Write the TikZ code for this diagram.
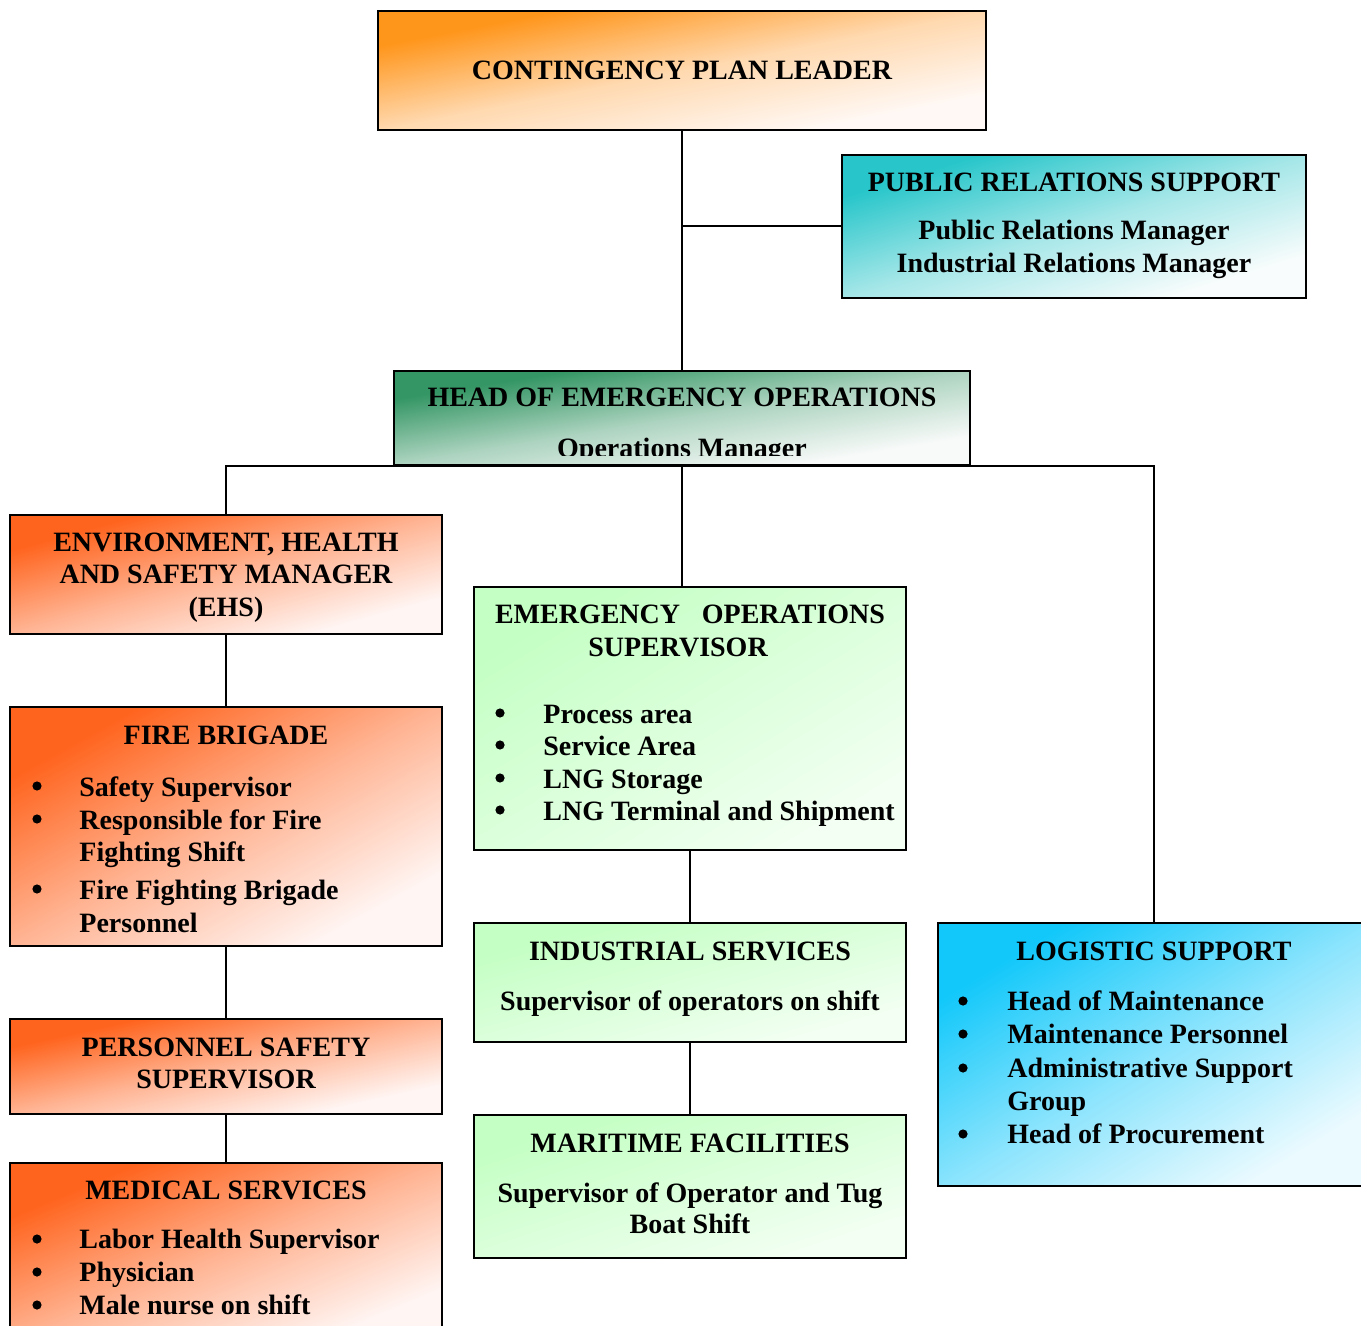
\documentclass[tikz,border=0pt]{standalone}
\usepackage{fontspec}
\setmainfont{Liberation Serif}
\usetikzlibrary{fit}

\definecolor{leaderA}{RGB}{255,150,28}
\definecolor{leaderB}{RGB}{255,248,244}
\definecolor{prA}{RGB}{40,198,202}
\definecolor{prB}{RGB}{248,252,252}
\definecolor{headA}{RGB}{52,150,100}
\definecolor{headB}{RGB}{248,250,249}
\definecolor{ehsA}{RGB}{255,100,30}
\definecolor{ehsB}{RGB}{255,246,244}
\definecolor{opsA}{RGB}{196,255,196}
\definecolor{opsB}{RGB}{242,255,242}
\definecolor{logA}{RGB}{18,200,250}
\definecolor{logB}{RGB}{234,250,255}

% corner to corner gradient
\colorlet{gradA}{black}\colorlet{gradB}{white}\colorlet{gradM}{gray}
\pgfdeclareverticalshading[gradA,gradM,gradB]{diag}{100bp}{color(0bp)=(gradB); color(25bp)=(gradB); color(50bp)=(gradM); color(75bp)=(gradA); color(100bp)=(gradA)}

\tikzset{
  box/.style={draw=black, line width=1pt, inner sep=0pt},
  grad/.style n args={3}{/utils/exec={\colorlet{gradA}{#1}\colorlet{gradB}{#2}\colorlet{gradM}{#1!#3!#2}},
    shading=diag, shading angle=45},
  txt/.style={anchor=base, inner sep=0pt, font=\bfseries\fontsize{14}{16}\selectfont},
  ltxt/.style={txt, anchor=base west},
  dot/.style={circle, fill=black, inner sep=0pt, minimum size=4.6pt},
  link/.style={line width=1pt}
}

% box: name, x0, y0, x1, y1, colour A, colour B, mix
\newcommand\gradbox[8]{%
  \shade[grad={#6}{#7}{#8}, transform canvas={shift={(#2,#3)}, xscale={(#4-#2)/100}, yscale={(#5-#3)/100}}] (0,0) rectangle (100,100);
  \node[box, fit={(#2,#3) (#4,#5)}] (#1) {};}

\begin{document}
\begin{tikzpicture}[x=0.5pt,y=-0.5pt]
\useasboundingbox (0,0) rectangle (1361,1326);
\clip (0,0) rectangle (1361,1326);

% boxes
\gradbox{leader}{378}{11}{986}{130}{leaderA}{leaderB}{32}
\gradbox{pr}{842}{155}{1306}{298}{prA}{prB}{40}
\gradbox{head}{394}{371}{970}{465}{headA}{headB}{38}
\gradbox{ehs}{10}{515}{442}{634}{ehsA}{ehsB}{45}
\gradbox{fire}{10}{707}{442}{946}{ehsA}{ehsB}{45}
\gradbox{pers}{10}{1019}{442}{1114}{ehsA}{ehsB}{45}
\gradbox{med}{10}{1163}{442}{1345}{ehsA}{ehsB}{45}
\gradbox{emops}{474}{587}{906}{850}{opsA}{opsB}{50}
\gradbox{indus}{474}{923}{906}{1042}{opsA}{opsB}{50}
\gradbox{marit}{474}{1115}{906}{1258}{opsA}{opsB}{50}
\gradbox{logis}{938}{923}{1370}{1186}{logA}{logB}{45}

% connectors
\draw[link] (leader.south) -- (head.north);
\draw[link] (leader.south |- pr.west) -- (pr.west);
\draw[link] (ehs.north) |- (logis.north |- head.south) -- (logis.north);
\draw[link] (head.south) -- (head.south |- emops.north);
\draw[link] (ehs.south) -- (fire.north);
\draw[link] (fire.south) -- (pers.north);
\draw[link] (pers.south) -- (med.north);
\draw[link] (emops.south) -- (indus.north);
\draw[link] (indus.south) -- (marit.north);

% texts
\node[txt] (leader1) at (682,80) {CONTINGENCY PLAN LEADER};

\node[txt] (pr1) at (1074,192) {PUBLIC RELATIONS SUPPORT};
\node[txt] (pr2) at (1074,240) {Public Relations Manager};
\node[txt] (pr3) at (1074,273) {Industrial Relations Manager};

\node[txt] (head1) at (682,407) {HEAD OF EMERGENCY OPERATIONS};
\begin{scope}
\clip (394,371) rectangle (970,456);
\node[txt] (head2) at (682,458) {Operations Manager};
\end{scope}

\node[txt] (ehs1) at (226,552) {ENVIRONMENT, HEALTH};
\node[txt] (ehs2) at (226,584) {AND SAFETY MANAGER};
\node[txt] (ehs3) at (226,617) {(EHS)};

\node[txt] (fire1) at (226,744) {FIRE BRIGADE};
\node[dot] (fireb1) at (37,786) {};
\node[ltxt] (fire2) at (79,796) {Safety Supervisor};
\node[dot] (fireb2) at (37,819) {};
\node[ltxt] (fire3) at (79,829) {Responsible for Fire};
\node[ltxt] (fire4) at (79,861) {Fighting Shift};
\node[dot] (fireb3) at (37,889) {};
\node[ltxt] (fire5) at (79,899) {Fire Fighting Brigade};
\node[ltxt] (fire6) at (79,932) {Personnel};

\node[txt] (pers1) at (226,1056) {PERSONNEL SAFETY};
\node[txt] (pers2) at (226,1088) {SUPERVISOR};

\node[txt] (med1) at (226,1199) {MEDICAL SERVICES};
\node[dot] (medb1) at (37,1239) {};
\node[ltxt] (med2) at (79,1248) {Labor Health Supervisor};
\node[dot] (medb2) at (37,1272) {};
\node[ltxt] (med3) at (79,1281) {Physician};
\node[dot] (medb3) at (37,1305) {};
\node[ltxt] (med4) at (79,1314) {Male nurse on shift};

\node[txt] (emops1) at (690,624) {\makebox[195pt][s]{EMERGENCY\hfill OPERATIONS}};
\node[txt] (emops2) at (678,656) {SUPERVISOR};
\node[dot] (emopsb1) at (500,713) {};
\node[ltxt] (emops3) at (543,723) {Process area};
\node[dot] (emopsb2) at (500,745) {};
\node[ltxt] (emops4) at (543,755) {Service Area};
\node[dot] (emopsb3) at (500,778) {};
\node[ltxt] (emops5) at (543,788) {LNG Storage};
\node[dot] (emopsb4) at (500,810) {};
\node[ltxt] (emops6) at (543,820) {LNG Terminal and Shipment};

\node[txt] (indus1) at (690,960) {INDUSTRIAL SERVICES};
\node[txt] (indus2) at (690,1010) {Supervisor of operators on shift};

\node[txt] (marit1) at (690,1152) {MARITIME FACILITIES};
\node[txt] (marit2) at (690,1202) {Supervisor of Operator and Tug};
\node[txt] (marit3) at (690,1233) {Boat Shift};

\node[txt] (logis1) at (1154,960) {LOGISTIC SUPPORT};
\node[dot] (logisb1) at (963,1001) {};
\node[ltxt] (logis2) at (1007,1010) {Head of Maintenance};
\node[dot] (logisb2) at (963,1034) {};
\node[ltxt] (logis3) at (1007,1043) {Maintenance Personnel};
\node[dot] (logisb3) at (963,1068) {};
\node[ltxt] (logis4) at (1007,1077) {Administrative Support};
\node[ltxt] (logis5) at (1007,1110) {Group};
\node[dot] (logisb4) at (963,1134) {};
\node[ltxt] (logis6) at (1007,1143) {Head of Procurement};
\end{tikzpicture}
\end{document}
